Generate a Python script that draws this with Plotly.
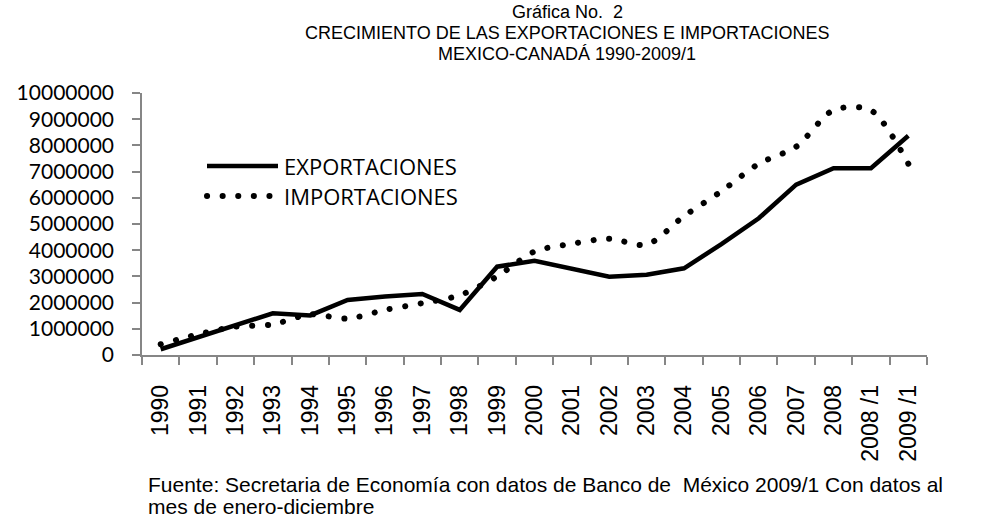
import plotly.graph_objects as go

# Datos
YEARS = ["1990", "1991", "1992", "1993", "1994", "1995", "1996", "1997", "1998", "1999",
         "2000", "2001", "2002", "2003", "2004", "2005", "2006", "2007", "2008",
         "2008 /1", "2009 /1"]
EXPORTACIONES = [220000, 680000, 1130000, 1590000, 1510000, 2100000, 2230000, 2330000,
                 1720000, 3370000, 3600000, 3310000, 2990000, 3060000, 3310000, 4230000,
                 5220000, 6500000, 7130000, 7130000, 8370000]
IMPORTACIONES = [410000, 790000, 1080000, 1170000, 1550000, 1390000, 1720000, 1980000,
                 2280000, 3000000, 3950000, 4240000, 4440000, 4210000, 5300000, 6250000,
                 7300000, 7950000, 9350000, 9340000, 7300000]
Y_TICKS = [0, 1000000, 2000000, 3000000, 4000000, 5000000, 6000000, 7000000, 8000000,
           9000000, 10000000]

TITLE_LINES = ["Gráfica No.  2",
               "CRECIMIENTO DE LAS EXPORTACIONES E IMPORTACIONES",
               "MEXICO-CANADÁ 1990-2009/1"]
FUENTE = ["Fuente: Secretaria de Economía con datos de Banco de  México 2009/1 Con datos al",
          "mes de enero-diciembre"]

DOT_DASH = "0.1px,15.5px"
AXIS_GRAY = "#868686"


def py(px):
    # pixel vertical de la página -> coordenada paper (área del gráfico 93..355)
    return (355 - px) / 262


def px_(px):
    # pixel horizontal -> coordenada paper (área del gráfico 142..927)
    return (px - 142) / 785


fig = go.Figure()

fig.add_trace(go.Scatter(
    x=YEARS, y=EXPORTACIONES, name="EXPORTACIONES",
    mode="lines", line=dict(color="black", width=4.5),
    showlegend=False, hoverinfo="x+y",
))
fig.add_trace(go.Scatter(
    x=YEARS, y=IMPORTACIONES, name="IMPORTACIONES",
    mode="lines", line=dict(color="black", width=6, dash=DOT_DASH, shape="spline", smoothing=0.8),
    showlegend=False, hoverinfo="x+y",
))

# Leyenda dibujada a mano (línea larga como en el original)
fig.add_shape(type="line", xref="paper", yref="paper", x0=px_(207), x1=px_(278), y0=py(166), y1=py(166),
              line=dict(color="black", width=4.5))
fig.add_shape(type="line", xref="paper", yref="paper", x0=px_(207), x1=px_(271), y0=py(196), y1=py(196),
              line=dict(color="black", width=6, dash=DOT_DASH))
for txt, yy in [("EXPORTACIONES", 166), ("IMPORTACIONES", 196)]:
    fig.add_annotation(text=txt, xref="paper", yref="paper", x=px_(282), y=py(yy),
                       xanchor="left", yanchor="middle", showarrow=False,
                       font=dict(family="Open Sans", size=22, color="black"))

# Título en tres líneas
for txt, ypx in zip(TITLE_LINES, [12, 33, 54]):
    fig.add_annotation(text=txt, xref="paper", yref="paper", x=px_(567), y=py(ypx),
                       xanchor="center", yanchor="middle", showarrow=False,
                       font=dict(family="Liberation Sans, Arial", size=18, color="black"))

# Fuente
for txt, ypx in zip(FUENTE, [484, 506]):
    fig.add_annotation(text=txt, xref="paper", yref="paper", x=px_(146), y=py(ypx),
                       xanchor="left", yanchor="middle", showarrow=False,
                       font=dict(family="Liberation Sans, Arial", size=21, color="black"))

fig.update_layout(
    width=992, height=519,
    margin=dict(l=142, r=65, t=93, b=164),
    plot_bgcolor="white", paper_bgcolor="white",
    showlegend=False,
    xaxis=dict(
        type="category", range=[-0.5, len(YEARS) - 0.5],
        showline=True, linecolor=AXIS_GRAY, linewidth=1.5,
        ticks="outside", tickson="boundaries", ticklen=8, tickcolor=AXIS_GRAY, tickwidth=1.5,
        tickangle=-90, showgrid=False, zeroline=False,
        tickfont=dict(family="Liberation Sans, Arial", size=23, color="black"),
        ticklabelstandoff=19,
    ),
    yaxis=dict(
        range=[0, 10000000], tickvals=Y_TICKS, tickformat="d",
        showline=True, linecolor=AXIS_GRAY, linewidth=1.5,
        ticks="outside", ticklen=8, tickcolor=AXIS_GRAY, tickwidth=1.5,
        showgrid=False, zeroline=False,
        tickfont=dict(family="Lato", size=21, color="black"),
        ticklabelstandoff=14,
    ),
)

# Sin margen en el body y puntos redondos para la línea punteada
post = """
document.body.style.margin = '0';
var gd = document.getElementById('{plot_id}');
function roundDots(){
  gd.querySelectorAll('path').forEach(function(p){
    var d = p.style.strokeDasharray || '';
    if (d.indexOf('0.1px') >= 0) { p.style.strokeLinecap = 'round'; }
  });
}
roundDots();
gd.on('plotly_afterplot', roundDots);
"""

fig.write_html("out.html", post_script=post, config={"displayModeBar": False})
